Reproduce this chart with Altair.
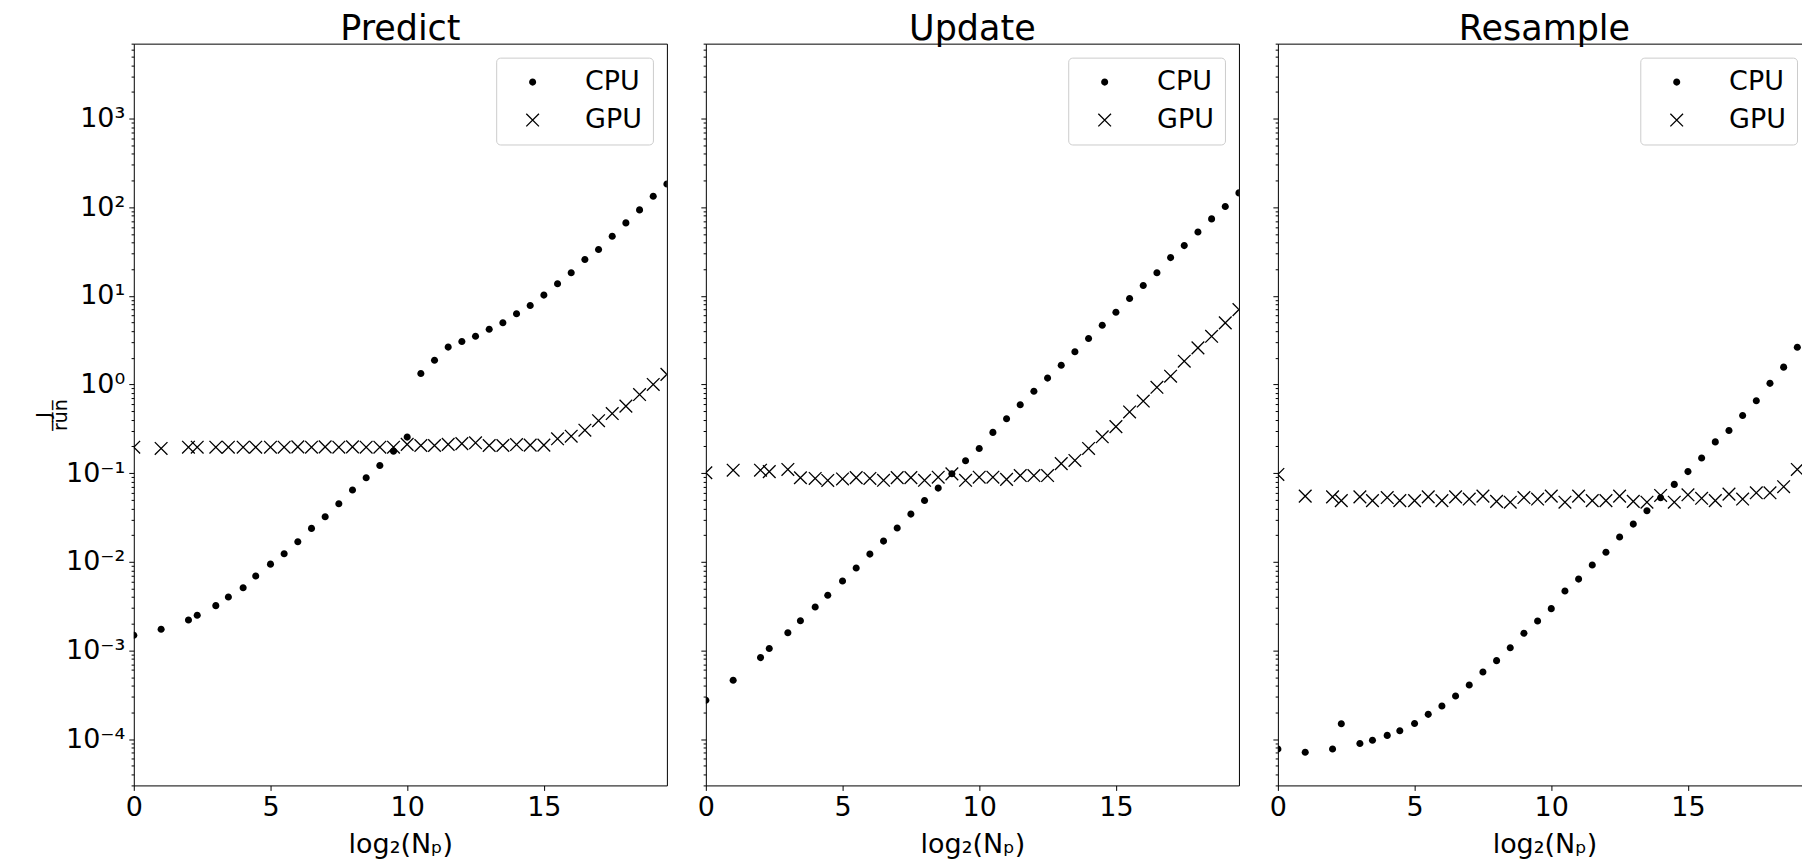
import altair as alt
import pandas as pd

FONT = "DejaVu Sans"

# x positions: log2(N_p)
x_log2_np = [0, 1, 2, 2.32, 3, 3.46, 4, 4.46, 5, 5.5, 6, 6.5, 7, 7.5, 8, 8.5, 9, 9.5,
             10, 10.5, 11, 11.5, 12, 12.5, 13, 13.5, 14, 14.5, 15, 15.5, 16, 16.5,
             17, 17.5, 18, 18.5, 19, 19.5]

predict_cpu = [1.48e-3, 1.73e-3, 2.2e-3, 2.49e-3, 3.2e-3, 4.0e-3, 5.1e-3, 6.9e-3, 9.4e-3,
               0.0123, 0.0168, 0.0238, 0.0322, 0.0452, 0.0644, 0.0888, 0.122, 0.177, 0.255,
               1.33, 1.88, 2.64, 3.05, 3.5, 4.2, 4.97, 6.27, 7.78, 10.2, 13.7, 18.2, 25.7,
               33.3, 47, 66.5, 93.3, 133, 183]
predict_gpu = [0.196, 0.19, 0.196, 0.196, 0.196, 0.196, 0.196, 0.196, 0.196, 0.196, 0.198,
               0.196, 0.198, 0.196, 0.198, 0.196, 0.196, 0.196, 0.211, 0.205, 0.205, 0.211,
               0.215, 0.22, 0.205, 0.205, 0.21, 0.207, 0.207, 0.244, 0.261, 0.305, 0.39,
               0.47, 0.57, 0.77, 1.0, 1.3]

update_cpu = [2.74e-4, 4.6e-4, 8.3e-4, 1.05e-3, 1.58e-3, 2.16e-3, 3.09e-3, 4.2e-3, 6.07e-3,
              8.5e-3, 0.0122, 0.0171, 0.024, 0.0345, 0.0492, 0.0678, 0.0984, 0.138, 0.19,
              0.288, 0.41, 0.59, 0.84, 1.18, 1.65, 2.34, 3.3, 4.66, 6.53, 9.33, 13.1, 18.2,
              27, 36.9, 52.6, 73.8, 102, 145]
update_gpu = [0.101, 0.108, 0.108, 0.104, 0.110, 0.0887, 0.087, 0.0827, 0.086, 0.089, 0.087,
              0.083, 0.089, 0.089, 0.083, 0.09, 0.098, 0.083, 0.09, 0.09, 0.085, 0.094, 0.094,
              0.094, 0.128, 0.139, 0.19, 0.257, 0.335, 0.49, 0.65, 0.93, 1.24, 1.83, 2.59,
              3.5, 4.96, 7.0]

resample_cpu = [7.74e-5, 7.1e-5, 7.74e-5, 1.49e-4, 8.9e-5, 9.7e-5, 1.1e-4, 1.24e-4, 1.5e-4,
                1.9e-4, 2.36e-4, 3.06e-4, 4.07e-4, 5.71e-4, 7.67e-4, 1.07e-3, 1.56e-3, 2.15e-3,
                2.96e-3, 4.68e-3, 6.38e-3, 9.18e-3, 0.0128, 0.019, 0.0266, 0.0377, 0.0528,
                0.0746, 0.104, 0.148, 0.225, 0.303, 0.447, 0.655, 1.03, 1.57, 2.63, 4.96]
resample_gpu = [0.0967, 0.055, 0.054, 0.049, 0.054, 0.049, 0.053, 0.049, 0.049, 0.054, 0.049,
                0.054, 0.051, 0.055, 0.048, 0.047, 0.053, 0.051, 0.055, 0.047, 0.055, 0.049,
                0.049, 0.055, 0.048, 0.047, 0.056, 0.047, 0.057, 0.052, 0.049, 0.058, 0.051,
                0.06, 0.06, 0.0703, 0.110, 0.125]

panel_titles = ["Predict", "Update", "Resample"]
devices = ["CPU", "GPU"]
x_ticks = [0, 5, 10, 15]
y_major = [1e-4, 1e-3, 1e-2, 1e-1, 1, 10, 100, 1000]
minor_mult = [2, 3, 4, 5, 6, 7, 8, 9]
minor_exp = [-5, -4, -3, -2, -1, 0, 1, 2, 3]

Y_DOMAIN = [3e-5, 7000]
X_DOMAIN = [0, 19.5]
PANEL_W = 534
PANEL_H = 743
y_minor = [m * 10.0 ** e for e in minor_exp for m in minor_mult
           if Y_DOMAIN[0] <= m * 10.0 ** e <= Y_DOMAIN[1]]
y_tick_values = sorted(y_major + y_minor)

# filled glyphs (unit box [-1, 1]); the "x" is two thin filled bars
CIRCLE = "M0.56,0A0.56,0.56,0,1,1,-0.56,0A0.56,0.56,0,1,1,0.56,0Z"
XMARK = ("M-0.927,-1.073L1.073,0.927L0.927,1.073L-1.073,-0.927Z"
         "M-1.073,0.927L0.927,-1.073L1.073,-0.927L-0.927,1.073Z")

EXP = "round(log(datum.value) / LN10)"
IS_MAJOR = f"abs(log(datum.value) / LN10 - {EXP}) < 0.01"
SUP = "'\u2070\u00b9\u00b2\u00b3\u2074\u2075\u2076\u2077\u2078\u2079'"
LABEL_EXPR = (f"{IS_MAJOR} ? (({EXP}) < 0 ? '10\u207b' : '10') + "
              f"substring({SUP}, abs({EXP}), abs({EXP}) + 1) : ''")

FS = 27


def panel(name, cpu, gpu, first):
    df = pd.DataFrame({
        "x": x_log2_np + x_log2_np,
        "y": cpu + gpu,
        "device": ["CPU"] * len(cpu) + ["GPU"] * len(gpu),
    })
    yscale = alt.Scale(type="log", domain=Y_DOMAIN, nice=False)
    xscale = alt.Scale(domain=X_DOMAIN, nice=False, zero=False)
    yaxis = alt.Axis(
        values=y_tick_values, labelExpr=LABEL_EXPR, labels=first,
        tickSize={"condition": {"test": IS_MAJOR, "value": 5}, "value": 2.7},
        labelFontSize={"condition": {"test": IS_MAJOR, "value": FS}, "value": 0},
        title=["J", "r\u0305u\u0305n\u0305"] if first else None,
        titleFontSize=19, titleLineHeight=17,
        titleX=-80, titleY=PANEL_H / 2,
        labelFlush=False, labelPadding=4, labelOverlap=False,
    )
    xaxis = alt.Axis(values=x_ticks, title="log\u2082(N\u209a)", labelFlush=False,
                     labelPadding=4, titlePadding=11)
    pts = alt.Chart(df).mark_point(
        filled=True, color="black", opacity=1, size=161, clip=True,
    ).encode(
        x=alt.X("x:Q", scale=xscale, axis=xaxis),
        y=alt.Y("y:Q", scale=yscale, axis=yaxis),
        shape=alt.Shape("device:N",
                        scale=alt.Scale(domain=devices, range=[CIRCLE, XMARK]),
                        legend=alt.Legend(title=None, orient="top-right")),
    )
    return pts.properties(
        width=PANEL_W, height=PANEL_H,
        title=alt.TitleParams(text=name, frame="group", offset=-4),
    )


# the right-hand panel runs past the right edge of the picture, as in the original;
# the negative right padding crops the page there instead of letting it overflow
chart = alt.hconcat(
    panel(panel_titles[0], predict_cpu, predict_gpu, True),
    panel(panel_titles[1], update_cpu, update_gpu, False),
    panel(panel_titles[2], resample_cpu, resample_gpu, False),
    spacing=39, bounds="flush",
).resolve_scale(
    x="independent", y="independent", shape="independent"
).resolve_legend(
    shape="independent"
).properties(
    padding={"left": 26, "top": 3, "right": -10, "bottom": 0}
).configure(
    font=FONT
).configure_view(
    stroke="black", strokeWidth=1
).configure_axis(
    labelFont=FONT, labelColor="black",
    titleFont=FONT, titleFontSize=FS, titleFontWeight="normal", titleColor="black",
    tickColor="black", tickWidth=1, domain=False, grid=False,
).configure_axisX(
    labelFontSize=FS,
).configure_title(
    font=FONT, fontSize=35, fontWeight="normal", color="black", anchor="middle",
).configure_legend(
    orient="top-right", offset=14, padding=11, strokeColor="#cccccc", fillColor="white",
    cornerRadius=4, labelFont=FONT, labelFontSize=FS, labelColor="black",
    symbolSize=161, symbolFillColor="black", symbolStrokeColor="black", symbolStrokeWidth=0,
    symbolOffset=12, rowPadding=10, labelOffset=39,
)

chart.save("out.html", embed_options={"renderer": "svg", "actions": False})
